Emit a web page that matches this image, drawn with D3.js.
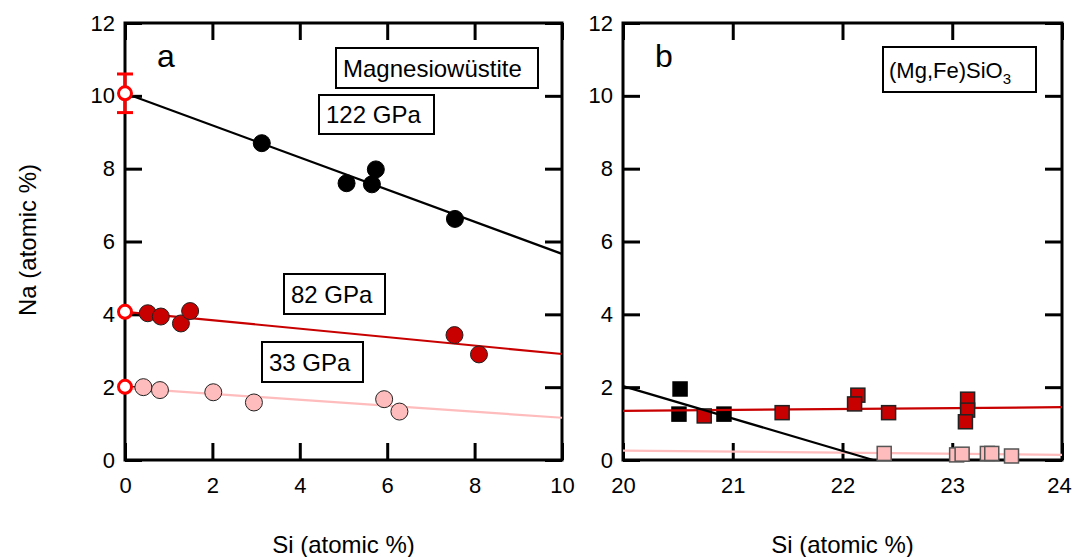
<!DOCTYPE html>
<html>
<head>
<meta charset="utf-8">
<script src="https://cdn.jsdelivr.net/npm/d3@7"></script>
<style>
  body { margin: 0; background: #fff; }
  svg { display: block; font-family: "Liberation Sans", Arial, sans-serif; }
</style>
</head>
<body>
<svg id="chart" width="1073" height="557"></svg>
<script>
// panel a : magnesiowustite, x = Si, y = Na (atomic %)
const mw122 = [[3.13, 8.70], [5.07, 7.60], [5.65, 7.57], [5.74, 7.98], [7.55, 6.62]];
const mw82 = [[0.52, 4.03], [0.82, 3.94], [1.28, 3.75], [1.49, 4.09], [7.54, 3.43], [8.10, 2.90]];
const mw33 = [[0.42, 2.00], [0.80, 1.92], [2.02, 1.86], [2.95, 1.58], [5.93, 1.67], [6.28, 1.33]];
// extrapolated Si-free values (open red circles) and error on the 122 GPa one
const intercepts = [10.07, 4.07, 2.01];
const interceptErr = [0.53, 0, 0];
// fitted lines, read as two end points
const fit122 = [[0, 10.07], [10, 5.66]];
const fit82 = [[0, 4.07], [10, 2.91]];
const fit33 = [[0, 1.98], [10, 1.16]];

// panel b : (Mg,Fe)SiO3
const pv122 = [[20.52, 1.95], [20.51, 1.26], [20.92, 1.26]];
const pv82 = [[20.74, 1.21], [21.45, 1.30], [22.14, 1.78], [22.11, 1.54], [22.42, 1.30],
              [23.14, 1.67], [23.14, 1.37], [23.12, 1.05]];
const pv33 = [[22.38, 0.18], [23.04, 0.14], [23.09, 0.16], [23.32, 0.18], [23.36, 0.18], [23.54, 0.11]];
const fitPv122 = [[20, 2.03], [22.28, 0]];
const fitPv82 = [[20, 1.35], [24, 1.45]];
const fitPv33 = [[20, 0.26], [24, 0.14]];

const yTicks = [0, 2, 4, 6, 8, 10, 12];
const xTicksA = [0, 2, 4, 6, 8, 10];
const xTicksB = [20, 21, 22, 23, 24];

const BLACK = "#000", RED = "#c80000", PINK = "#ffbcbc", OPEN = "#ff0000";

const svg = d3.select("#chart");
const yTop = 23, yBottom = 460;

const y = d3.scaleLinear().domain([0, 12]).range([yBottom, yTop]);
const xa = d3.scaleLinear().domain([0, 10]).range([125, 562]);
const xb = d3.scaleLinear().domain([20, 24]).range([623, 1062]);

function frame(x, xTicks, panel) {
    const g = svg.append("g");
    const [x0, x1] = x.range();
    const fmt = d3.format("d");

    // inner ticks on all four sides
    const xAxis = g.append("g").attr("transform", `translate(0,${yBottom})`)
        .call(d3.axisBottom(x).tickValues(xTicks).tickFormat(fmt).tickSize(-17).tickPadding(17));
    g.append("g").attr("transform", `translate(0,${yTop})`)
        .call(d3.axisTop(x).tickValues(xTicks).tickSize(-17).tickFormat(""));
    g.append("g").attr("transform", `translate(${x0},0)`)
        .call(d3.axisLeft(y).tickValues(yTicks).tickFormat(fmt).tickSize(-17).tickPadding(10));
    g.append("g").attr("transform", `translate(${x1},0)`)
        .call(d3.axisRight(y).tickValues(yTicks).tickSize(-17).tickFormat(""));
    g.selectAll(".domain").remove();
    g.selectAll(".tick line").attr("stroke", "#000").attr("stroke-width", 3);
    g.selectAll("g").attr("font-size", 22).attr("font-family", "Liberation Sans, Arial, sans-serif");
    g.selectAll(".tick text").attr("fill", "#000");
    // keep the last x label inside the page
    xAxis.selectAll(".tick text").filter(d => d === 24).attr("dx", -3);

    g.append("rect")
        .attr("x", x0).attr("y", yTop)
        .attr("width", x1 - x0).attr("height", yBottom - yTop)
        .attr("fill", "none").attr("stroke", "#000").attr("stroke-width", 3);

    g.append("text")
        .attr("x", x0 + 32).attr("y", 67)
        .attr("font-size", 32)
        .text(panel);

    g.append("text")
        .attr("x", (x0 + x1) / 2).attr("y", 553)
        .attr("text-anchor", "middle")
        .attr("font-size", 24)
        .text("Si (atomic %)");
    return g;
}

frame(xa, xTicksA, "a");
frame(xb, xTicksB, "b");

svg.append("text")
    .attr("transform", "translate(36,240) rotate(-90)")
    .attr("text-anchor", "middle")
    .attr("font-size", 24)
    .text("Na (atomic %)");

function fitLine(x, pts, color) {
    svg.append("line")
        .attr("x1", x(pts[0][0])).attr("y1", y(pts[0][1]))
        .attr("x2", x(pts[1][0])).attr("y2", y(pts[1][1]))
        .attr("stroke", color).attr("stroke-width", 2.2);
}

function circles(data, fill, stroke) {
    svg.append("g").selectAll("circle")
        .data(data).join("circle")
        .attr("cx", d => xa(d[0])).attr("cy", d => y(d[1]))
        .attr("r", 8.5)
        .attr("fill", fill).attr("stroke", stroke).attr("stroke-width", 1);
}

function squares(data, fill, stroke) {
    const s = 14;
    svg.append("g").selectAll("rect")
        .data(data).join("rect")
        .attr("x", d => xb(d[0]) - s / 2).attr("y", d => y(d[1]) - s / 2)
        .attr("width", s).attr("height", s)
        .attr("fill", fill).attr("stroke", stroke).attr("stroke-width", 1.5);
}

function box(x0, y0, w, h, label) {
    svg.append("rect")
        .attr("x", x0).attr("y", y0).attr("width", w).attr("height", h)
        .attr("fill", "#fff").attr("stroke", "#000").attr("stroke-width", 2);
    return svg.append("text")
        .attr("x", x0 + 7).attr("y", y0 + h / 2 + 8.5)
        .attr("font-size", 24)
        .text(label);
}

// panel a
fitLine(xa, fit122, BLACK);
fitLine(xa, fit82, RED);
fitLine(xa, fit33, PINK);
circles(mw33, PINK, "#222");
circles(mw82, RED, "#222");
circles(mw122, BLACK, BLACK);

const err = svg.append("g").attr("stroke", OPEN).attr("stroke-width", 3);
intercepts.forEach((v, i) => {
    const e = interceptErr[i];
    if (e > 0) {
        err.append("line").attr("x1", xa(0)).attr("x2", xa(0)).attr("y1", y(v - e)).attr("y2", y(v + e));
        [v - e, v + e].forEach(c => {
            err.append("line").attr("x1", xa(0) - 8).attr("x2", xa(0) + 8).attr("y1", y(c)).attr("y2", y(c));
        });
    }
});
svg.append("g").selectAll("circle")
    .data(intercepts).join("circle")
    .attr("cx", xa(0)).attr("cy", d => y(d))
    .attr("r", 6.5)
    .attr("fill", "#fff").attr("stroke", OPEN).attr("stroke-width", 3);

box(336, 48, 202, 40, "Magnesiowüstite");
box(319, 95, 115, 39, "122 GPa");
box(284, 274, 101, 40, "82 GPa");
box(262, 342, 101, 40, "33 GPa");

// panel b
squares(pv122, BLACK, BLACK);
fitLine(xb, fitPv82, RED);
fitLine(xb, fitPv33, PINK);
squares(pv82, RED, "#222");
squares(pv33, PINK, "#555");
fitLine(xb, fitPv122, BLACK);

const pvLabel = box(883, 47, 153, 45, "(Mg,Fe)SiO");
pvLabel.attr("font-size", 22).attr("x", 889).attr("y", 47 + 22.5 + 8);
pvLabel.append("tspan").attr("font-size", 15).attr("dy", 6).text("3");
</script>
</body>
</html>
